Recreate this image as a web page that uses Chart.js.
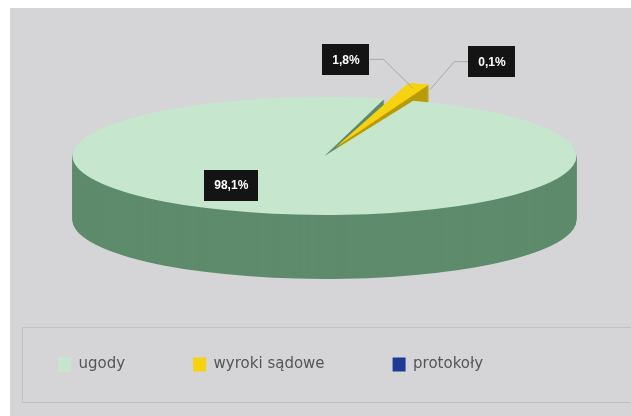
<!DOCTYPE html>
<html>
<head>
<meta charset="utf-8">
<script src="https://cdn.jsdelivr.net/npm/chart.js@4.4.0/dist/chart.umd.min.js"></script>
<style>
  html, body { margin: 0; padding: 0; background: #fff; }
</style>
</head>
<body>
<canvas id="pieChart" width="631" height="416"></canvas>
<script>
// data
const categories = ['ugody', 'wyroki sądowe', 'protokoły'];
const shares = [98.1, 1.8, 0.1];
const valueLabels = ['98,1%', '1,8%', '0,1%'];

// colours: top face and side wall of each slice
const topColors = ['#c6e6cd', '#f6d20f', '#1d3a94'];
const sideColors = ['#5e8b6c', '#b89b06', '#101f58'];

// fake 3d: squash the pie, stack darker copies under it for the wall
const pie3d = {
  id: 'pie3d',
  beforeDraw(chart) {
    const ctx = chart.ctx;
    ctx.save();
    ctx.fillStyle = '#ffffff';
    ctx.fillRect(0, 0, chart.width, chart.height);
    ctx.fillStyle = '#d5d5d7';
    ctx.fillRect(10, 8, chart.width - 10, chart.height - 8);
    // legend frame
    ctx.strokeStyle = '#c1c1c3';
    ctx.lineWidth = 1;
    ctx.strokeRect(22.5, 327.5, chart.width, 75);
    ctx.restore();
  },
  beforeDatasetsDraw(chart, args, opts) {
    const ctx = chart.ctx;
    const arcs = chart.getDatasetMeta(0).data;
    const c = arcs[0];
    ctx.save();
    ctx.translate(opts.cx, opts.cy);
    ctx.scale(1, opts.tilt);
    ctx.translate(-c.x, -c.y);
    const walls = arcs.map((arc, i) => {
      const w = Object.create(arc);
      w.options = Object.assign({}, arc.options, { backgroundColor: sideColors[i], borderWidth: 0 });
      return w;
    });
    for (let d = opts.depth; d > 0; d--) {
      walls.forEach((w) => {
        ctx.save();
        ctx.translate(0, d / opts.tilt);
        w.draw(ctx);
        ctx.restore();
      });
    }
  },
  afterDatasetsDraw(chart, args, opts) {
    const ctx = chart.ctx;
    ctx.restore();
    const arcs = chart.getDatasetMeta(0).data;
    ctx.save();
    ctx.font = 'bold 12px "Liberation Sans", Arial, sans-serif';
    ctx.textAlign = 'center';
    ctx.textBaseline = 'middle';
    arcs.forEach((arc, i) => {
      const lab = opts.labels[i];
      const h = (arc.startAngle + arc.endAngle) / 2;
      const r = arc.outerRadius * lab.r;
      const ax = opts.cx + Math.cos(h) * r;
      const ay = opts.cy + Math.sin(h) * r * opts.tilt;
      const bx = ax + lab.dx;
      const by = ay + lab.dy;
      const w = ctx.measureText(valueLabels[i]).width + 20;
      const hgt = 31;
      if (lab.leader) {
        ctx.strokeStyle = '#a8a8a8';
        ctx.lineWidth = 1;
        ctx.beginPath();
        const sx = lab.dx < 0 ? bx + w / 2 : bx - w / 2;
        ctx.moveTo(sx, by);
        ctx.lineTo(sx + (lab.dx < 0 ? 14 : -14), by);
        ctx.lineTo(ax, ay);
        ctx.stroke();
      }
      ctx.fillStyle = '#141414';
      ctx.fillRect(Math.round(bx - w / 2), Math.round(by - hgt / 2), Math.round(w), hgt);
      ctx.fillStyle = '#ffffff';
      ctx.fillText(valueLabels[i], bx, by + 1);
    });
    ctx.restore();
  }
};

new Chart(document.getElementById('pieChart'), {
  type: 'pie',
  data: {
    labels: categories,
    datasets: [{
      data: shares,
      backgroundColor: topColors,
      borderWidth: 0,
      offset: [0, 150, 150],
      clip: 10000
    }]
  },
  options: {
    responsive: false,
    animation: false,
    rotation: 20.6,
    radius: 252,
    layout: { padding: { left: -10, right: 0, top: 0, bottom: 34 } },
    plugins: {
      legend: {
        position: 'bottom',
        align: 'start',
        labels: {
          boxWidth: 13,
          boxHeight: 14,
          padding: 68,
          color: '#555555',
          font: { family: 'DejaVu Sans', size: 15 }
        }
      },
      tooltip: { enabled: false },
      pie3d: {
        cx: 324.5,
        cy: 156,
        tilt: 0.234,
        depth: 64,
        labels: [
          { r: 0.5, dx: -56, dy: 1 },
          { r: 1.2, dx: -67, dy: -29, leader: true },
          { r: 1.2, dx: 62, dy: -28, leader: true }
        ]
      }
    }
  },
  plugins: [pie3d]
});
</script>
</body>
</html>
